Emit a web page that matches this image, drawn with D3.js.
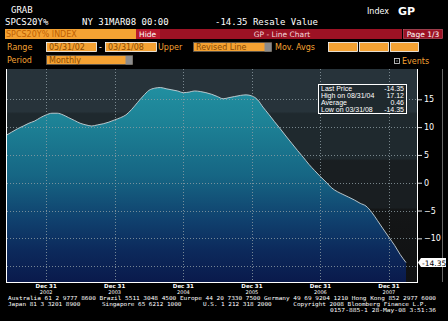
<!DOCTYPE html>
<html>
<head>
<meta charset="utf-8">
<script src="https://cdn.jsdelivr.net/npm/d3@7"></script>
<style>
  body { margin: 0; background: #000; }
  svg { display: block; }
</style>
</head>
<body>
<div id="chart"></div>
<script>
// SPCS20Y% monthly, 05/31/02 .. 03/31/08
const values = [
  8.5, 9.1, 9.7, 10.2, 10.7, 11.1, 11.7, 12.2, 12.5, 12.5, 12.2, 11.7,
  11.2, 10.7, 10.4, 10.2, 10.4, 10.6, 10.9, 11.3, 11.7, 12.2, 13.2, 14.4,
  15.6, 16.6, 17.0, 17.12, 16.9, 16.7, 16.5, 16.2, 16.3, 16.5, 16.4, 16.2,
  15.9, 15.5, 15.1, 15.3, 15.5, 15.7, 15.8, 15.6, 14.9, 13.6, 12.3, 11.0,
  9.7, 8.4, 7.1, 5.8, 4.6, 3.3, 2.2, 1.1, 0.1, -0.9, -1.6, -2.1,
  -2.6, -3.1, -3.7, -4.2, -5.3, -6.8, -8.3, -9.8, -11.3, -12.9, -14.35
];
const startMonth = [2002, 4];      // May 2002, month end dates
const yTicks = [15, 10, 5, 0, -5, -10, -15];
const yTickLabels = [15, 10, 5, 0, -5, -10];
const xTickYears = [2002, 2003, 2004, 2005, 2006, 2007];
const statLabels = ["Last Price", "High on 08/31/04", "Average", "Low on 03/31/08"];
const statValues = ["-14.35", "17.12", "0.46", "-14.35"];
const lastLabel = "-14.35";
const footer = [
  "Australia 61 2 9777 8600 Brazil 5511 3048 4500 Europe 44 20 7330 7500 Germany 49 69 9204 1210 Hong Kong 852 2977 6000",
  "Japan 81 3 3201 8900      Singapore 65 6212 1000      U.S. 1 212 318 2000      Copyright 2008 Bloomberg Finance L.P.",
  "0157-885-1 28-May-08  3:51:36"
];

const data = values.map((v, i) => ({ date: new Date(startMonth[0], startMonth[1] + i + 1, 0), value: v }));

const W = 448, H = 321;
const plot = { left: 7, right: 417, top: 69, bottom: 282 };

const svg = d3.select("#chart").append("svg").attr("width", W).attr("height", H);
svg.append("rect").attr("width", W).attr("height", H).attr("fill", "#000");

const mono = "'DejaVu Sans Mono', monospace";
const sans = "'DejaVu Sans', sans-serif";
const orange = "#f4a233";
const boxText = "#8a4a00";

// ---------- header ----------
svg.append("text").attr("x", 11).attr("y", 13).attr("fill", "#fff")
   .attr("font-family", mono).attr("font-size", 9).text("GRAB");
svg.append("text").attr("x", 5).attr("y", 25).attr("fill", "#fff")
   .attr("font-family", mono).attr("font-size", 9).text("SPCS20Y%");
svg.append("text").attr("x", 82).attr("y", 25).attr("fill", "#fff")
   .attr("font-family", mono).attr("font-size", 9).text("NY 31MAR08 00:00");
svg.append("text").attr("x", 215).attr("y", 25).attr("fill", "#fff")
   .attr("font-family", mono).attr("font-size", 9).text("-14.35 Resale Value");
svg.append("text").attr("x", 367).attr("y", 14).attr("fill", "#fff")
   .attr("font-family", sans).attr("font-size", 8).text("Index");
svg.append("text").attr("x", 398).attr("y", 15).attr("fill", "#fff")
   .attr("font-family", sans).attr("font-weight", "bold").attr("font-size", 11).text("GP");

// row 3
svg.append("rect").attr("x", 5).attr("y", 29).attr("width", 131).attr("height", 10).attr("fill", orange);
svg.append("text").attr("x", 6).attr("y", 37).attr("fill", "#c06000")
   .attr("font-family", sans).attr("font-size", 8).text("SPCS20Y% INDEX");
svg.append("rect").attr("x", 136).attr("y", 29).attr("width", 266).attr("height", 10).attr("fill", "#9c1224");
svg.append("rect").attr("x", 136).attr("y", 29).attr("width", 24).attr("height", 10).attr("fill", "#b8182c");
svg.append("text").attr("x", 139).attr("y", 37).attr("fill", "#fff")
   .attr("font-family", sans).attr("font-size", 7.5).text("Hide");
svg.append("text").attr("x", 282).attr("y", 37).attr("fill", "#f4d8dc").attr("text-anchor", "middle")
   .attr("font-family", sans).attr("font-size", 7.5).text("GP - Line Chart");
svg.append("rect").attr("x", 403.5).attr("y", 29.5).attr("width", 39).attr("height", 9)
   .attr("fill", "#9c1224").attr("stroke", "#d06070").attr("stroke-width", 0.6);
svg.append("text").attr("x", 423).attr("y", 37).attr("fill", "#fff").attr("text-anchor", "middle")
   .attr("font-family", sans).attr("font-size", 7.5).text("Page 1/3");

// row 4 / 5 fields
function field(x, w, y, txt, grayEnd) {
  svg.append("rect").attr("x", x + 0.5).attr("y", y + 0.5).attr("width", w).attr("height", 9)
     .attr("fill", orange).attr("stroke", grayEnd ? "#555" : "#fff").attr("stroke-width", 0.8);
  if (grayEnd) svg.append("rect").attr("x", x + w - 6.5).attr("y", y + 1).attr("width", 7).attr("height", 8.5).attr("fill", "#8c8c8c");
  if (txt) svg.append("text").attr("x", x + 3).attr("y", y + 8).attr("fill", boxText)
     .attr("font-family", sans).attr("font-size", 8).text(txt);
}
function label(x, y, txt) {
  svg.append("text").attr("x", x).attr("y", y).attr("fill", orange)
     .attr("font-family", sans).attr("font-size", 8).text(txt);
}
label(7, 50, "Range");
field(46, 50, 42, "05/31/02");
svg.append("text").attr("x", 99).attr("y", 50).attr("fill", "#fff").attr("font-family", sans).attr("font-size", 8).text("-");
field(105, 51, 42, "03/31/08");
label(158, 50, "Upper");
field(193, 78, 42, "Revised Line", true);
label(275, 50, "Mov. Avgs");
field(328, 29, 42, "");
field(359, 29, 42, "");
field(390, 28, 42, "");
label(7, 63, "Period");
field(46, 86, 55, "Monthly", true);
svg.append("rect").attr("x", 394.5).attr("y", 58.5).attr("width", 5).attr("height", 5)
   .attr("fill", "none").attr("stroke", "#ddd").attr("stroke-width", 0.8);
svg.append("rect").attr("x", 396.5).attr("y", 60.5).attr("width", 1).attr("height", 1).attr("fill", "#ddd");
label(402, 64, "Events");

// ---------- chart ----------
const x = d3.scaleTime()
  .domain([data[0].date, data[data.length - 1].date])
  .range([6, 406]);
const y = d3.scaleLinear()
  .domain([-17.85, 20.45])
  .range([plot.bottom, plot.top]);

const defs = svg.append("defs");
const bg = defs.append("linearGradient").attr("id", "bg")
  .attr("gradientUnits", "userSpaceOnUse").attr("x1", 0).attr("x2", 0).attr("y1", plot.top).attr("y2", plot.bottom);
[[0, "#27333a"], [0.2, "#27333a"], [0.21, "#1f292e"], [0.42, "#1f292e"], [0.43, "#191e21"],
 [0.65, "#191e21"], [0.66, "#141617"], [1, "#101112"]]
  .forEach(s => bg.append("stop").attr("offset", s[0]).attr("stop-color", s[1]));

const af = defs.append("linearGradient").attr("id", "areaFill")
  .attr("gradientUnits", "userSpaceOnUse").attr("x1", 0).attr("x2", 0).attr("y1", plot.top).attr("y2", plot.bottom);
[[0, "#2396a6"], [0.25, "#1d8296"], [0.5, "#166684"], [0.7, "#10426f"], [0.85, "#0c2a5c"], [1, "#0a1a4c"]]
  .forEach(s => af.append("stop").attr("offset", s[0]).attr("stop-color", s[1]));

svg.append("rect").attr("x", plot.left).attr("y", plot.top)
   .attr("width", plot.right - plot.left).attr("height", plot.bottom - plot.top).attr("fill", "url(#bg)");

svg.append("path").datum(data)
   .attr("fill", "url(#areaFill)")
   .attr("d", d3.area().curve(d3.curveMonotoneX)
     .x(d => x(d.date)).y0(plot.bottom).y1(d => y(d.value)));

svg.append("path").datum(data)
   .attr("fill", "none").attr("stroke", "#c8d4d8").attr("stroke-width", 0.9)
   .attr("d", d3.line().curve(d3.curveMonotoneX).x(d => x(d.date)).y(d => y(d.value)));

// grid
svg.append("g").selectAll("line").data(yTicks).join("line")
   .attr("x1", plot.left).attr("x2", plot.right)
   .attr("y1", d => Math.round(y(d)) + 0.5).attr("y2", d => Math.round(y(d)) + 0.5)
   .attr("stroke", "#8f9ea4").attr("stroke-width", 0.8).attr("stroke-dasharray", "1,2");
svg.append("g").selectAll("line").data(xTickYears).join("line")
   .attr("x1", d => Math.round(x(new Date(d, 11, 31))) + 0.5).attr("x2", d => Math.round(x(new Date(d, 11, 31))) + 0.5)
   .attr("y1", plot.top).attr("y2", plot.bottom)
   .attr("stroke", "#8f9ea4").attr("stroke-width", 0.8).attr("stroke-dasharray", "1,2");

// frame
svg.append("line").attr("x1", plot.left - 0.5).attr("x2", plot.left - 0.5).attr("y1", plot.top).attr("y2", plot.bottom + 1)
   .attr("stroke", "#fff").attr("stroke-width", 1);
svg.append("line").attr("x1", plot.left - 1).attr("x2", plot.right + 1).attr("y1", plot.bottom + 0.5).attr("y2", plot.bottom + 0.5)
   .attr("stroke", "#fff").attr("stroke-width", 1);
svg.append("line").attr("x1", plot.right + 0.5).attr("x2", plot.right + 0.5).attr("y1", plot.top).attr("y2", plot.bottom + 1)
   .attr("stroke", "#fff").attr("stroke-width", 1);
svg.append("line").attr("x1", 442.5).attr("x2", 442.5).attr("y1", plot.top).attr("y2", plot.bottom)
   .attr("stroke", "#666").attr("stroke-width", 1);

// right axis
const yAxis = svg.append("g").attr("transform", `translate(${plot.right + 1},0)`)
  .call(d3.axisRight(y).tickValues(yTickLabels).tickSize(4).tickPadding(2).tickFormat(d3.format("d")));
yAxis.select(".domain").remove();
yAxis.selectAll(".tick line").attr("stroke", "#ddd");
yAxis.selectAll(".tick text").attr("fill", "#fff").attr("font-family", sans).attr("font-size", 8);

// last value tag
const ly = y(values[values.length - 1]);
svg.append("path")
   .attr("d", `M${plot.right + 1},${ly} L${plot.right + 4},${ly - 4.5} L446,${ly - 4.5} L446,${ly + 4.5} L${plot.right + 4},${ly + 4.5} Z`)
   .attr("fill", "#fff");
svg.append("text").attr("x", plot.right + 5).attr("y", ly + 3).attr("fill", "#000")
   .attr("font-family", sans).attr("font-size", 7.5).text(lastLabel);

// bottom axis labels
const xl = svg.append("g").selectAll("g").data(xTickYears).join("g")
   .attr("transform", d => `translate(${x(new Date(d, 11, 31))},0)`);
xl.append("text").attr("y", 287.5).attr("text-anchor", "middle").attr("fill", "#fff")
  .attr("font-family", sans).attr("font-weight", "bold").attr("font-size", 5.5).text("Dec 31");
xl.append("text").attr("y", 293.5).attr("text-anchor", "middle").attr("fill", "#fff")
  .attr("font-family", sans).attr("font-size", 5).text(d => d);

// stats box
svg.append("rect").attr("x", 318.5).attr("y", 84.5).attr("width", 88).attr("height", 29)
   .attr("fill", "#1f292e").attr("stroke", "#fff").attr("stroke-width", 1);
const st = svg.append("g").selectAll("g").data(statLabels).join("g")
   .attr("transform", (d, i) => `translate(0,${90.5 + i * 7})`);
st.append("text").attr("x", 321).attr("fill", "#fff").attr("font-family", "'Liberation Sans', Arial, sans-serif")
  .attr("font-size", 7).text(d => d);
st.append("text").attr("x", 404).attr("text-anchor", "end").attr("fill", "#fff")
  .attr("font-family", "'Liberation Sans', Arial, sans-serif").attr("font-size", 7).text((d, i) => statValues[i]);

// footer
svg.append("text").attr("x", 8).attr("y", 299.5).attr("fill", "#fff").attr("font-family", mono).attr("font-size", 5.5)
   .attr("textLength", 428).attr("lengthAdjust", "spacingAndGlyphs").text(footer[0]);
svg.append("text").attr("x", 8).attr("y", 305.5).attr("fill", "#fff").attr("font-family", mono).attr("font-size", 5.5)
   .attr("textLength", 419).attr("lengthAdjust", "spacingAndGlyphs").attr("xml:space", "preserve").text(footer[1]);
svg.append("text").attr("x", 436).attr("y", 311.5).attr("text-anchor", "end").attr("fill", "#fff").attr("font-family", mono)
   .attr("font-size", 5.5).attr("textLength", 106).attr("lengthAdjust", "spacingAndGlyphs").text(footer[2]);
</script>
</body>
</html>
